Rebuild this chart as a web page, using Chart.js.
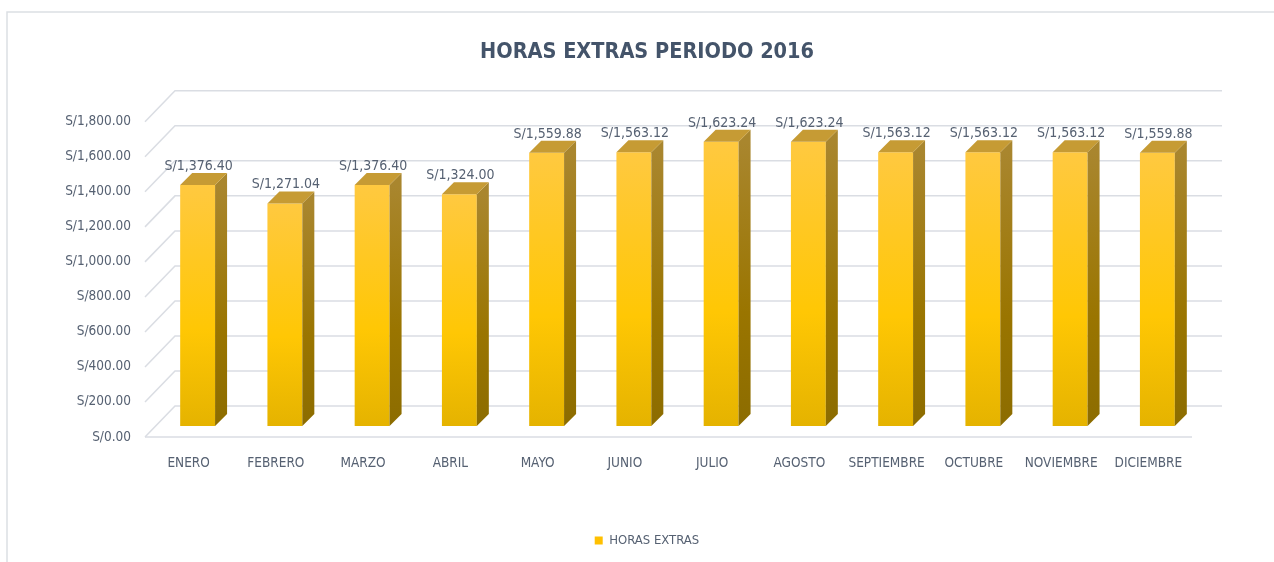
<!DOCTYPE html>
<html lang="es">
<head>
<meta charset="utf-8">
<title>Horas extras periodo 2016</title>
<script src="https://cdn.jsdelivr.net/npm/chart.js@4.4.1/dist/chart.umd.min.js"></script>
<style>
  html, body { margin: 0; padding: 0; background: #fff; }
  #wrap { position: relative; width: 1274px; height: 562px; }
</style>
</head>
<body>
<div id="wrap"><canvas id="grafico"></canvas></div>
<script>
// datos del grafico
const meses = ['ENERO', 'FEBRERO', 'MARZO', 'ABRIL', 'MAYO', 'JUNIO', 'JULIO',
               'AGOSTO', 'SEPTIEMBRE', 'OCTUBRE', 'NOVIEMBRE', 'DICIEMBRE'];
const horasExtras = [1376.40, 1271.04, 1376.40, 1324.00, 1559.88, 1563.12, 1623.24,
                     1623.24, 1563.12, 1563.12, 1563.12, 1559.88];
const serieNombre = 'HORAS EXTRAS';
const tituloTexto = 'HORAS EXTRAS PERIODO 2016';
const ejeMin = 0;
const ejeMax = 1800;
const ejePaso = 200;

const FUENTE = "'Liberation Sans Narrow', 'DejaVu Sans Condensed', Roboto, sans-serif";
const TEXTO = '#566172';
const REJILLA = '#dadde3';
const AREA_ABAJO = 426;   // base de las barras (plano frontal de las barras)

// desplazamientos de la perspectiva 3D
const PARED = {dx: 21, dy: -20};   // pared del fondo
const PISO = {dx: -9, dy: 11};     // borde frontal del piso
const FONDO = {dx: 12, dy: -12};   // profundidad de cada barra

function soles(v) {
  return 'S/' + Number(v).toLocaleString('en-US', {minimumFractionDigits: 2, maximumFractionDigits: 2});
}

// marco exterior y rejilla en perspectiva
const marco3d = {
  id: 'marco3d',
  beforeDraw(chart) {
    const ctx = chart.ctx;
    ctx.save();
    ctx.fillStyle = '#fff';
    ctx.fillRect(0, 0, chart.width, chart.height);
    ctx.strokeStyle = '#dcdfe4';
    ctx.lineWidth = 1.5;
    ctx.beginPath();
    ctx.moveTo(7, chart.height);
    ctx.lineTo(7, 12);
    ctx.lineTo(chart.width, 12);
    ctx.stroke();
    ctx.restore();
  },
  beforeDatasetsDraw(chart) {
    const ctx = chart.ctx;
    const y = chart.scales.y;
    const a = chart.chartArea;
    ctx.save();
    ctx.strokeStyle = REJILLA;
    ctx.lineWidth = 1.5;
    y.ticks.forEach(function(t) {
      const py = y.getPixelForValue(t.value);
      ctx.beginPath();
      ctx.moveTo(a.left + PISO.dx, py + PISO.dy);
      ctx.lineTo(a.left + PARED.dx, py + PARED.dy);
      ctx.lineTo(a.right + PARED.dx, py + PARED.dy);
      ctx.stroke();
    });
    // borde frontal del piso
    const p0 = y.getPixelForValue(0);
    ctx.beginPath();
    ctx.moveTo(a.left + PISO.dx, p0 + PISO.dy);
    ctx.lineTo(a.right + PISO.dx, p0 + PISO.dy);
    ctx.stroke();
    ctx.restore();
  }
};

// caras lateral y superior de cada barra + etiquetas de valor
const barras3d = {
  id: 'barras3d',
  afterDatasetsDraw(chart) {
    const ctx = chart.ctx;
    const meta = chart.getDatasetMeta(0);
    ctx.save();
    meta.data.forEach(function(bar, i) {
      const p = bar.getProps(['x', 'y', 'base', 'width'], true);
      const l = p.x - p.width / 2, r = p.x + p.width / 2;
      // cara lateral
      const gl = ctx.createLinearGradient(0, p.y, 0, p.base);
      gl.addColorStop(0, '#a9862e');
      gl.addColorStop(0.6, '#9a7500');
      gl.addColorStop(1, '#8c6c00');
      ctx.fillStyle = gl;
      ctx.beginPath();
      ctx.moveTo(r, p.y);
      ctx.lineTo(r + FONDO.dx, p.y + FONDO.dy);
      ctx.lineTo(r + FONDO.dx, p.base + FONDO.dy);
      ctx.lineTo(r, p.base);
      ctx.closePath();
      ctx.fill();
      // cara superior
      ctx.fillStyle = '#c69b34';
      ctx.beginPath();
      ctx.moveTo(l, p.y);
      ctx.lineTo(l + FONDO.dx, p.y + FONDO.dy);
      ctx.lineTo(r + FONDO.dx, p.y + FONDO.dy);
      ctx.lineTo(r, p.y);
      ctx.closePath();
      ctx.fill();
      // etiqueta
      ctx.fillStyle = TEXTO;
      ctx.font = '14px ' + FUENTE;
      ctx.textAlign = 'center';
      ctx.textBaseline = 'alphabetic';
      ctx.fillText(soles(horasExtras[i]), p.x + 1, p.y - 15);
    });
    ctx.restore();
  }
};

function degradadoFrente(c) {
  if (c.type !== 'data') return '#ffc700';
  const y = c.chart.scales.y;
  const top = y ? y.getPixelForValue(c.raw) : NaN;
  const bot = y ? y.getPixelForValue(0) : NaN;
  if (!isFinite(top) || !isFinite(bot) || top === bot) return '#ffc700';
  const g = c.chart.ctx.createLinearGradient(0, top, 0, bot);
  g.addColorStop(0, '#ffc940');
  g.addColorStop(0.6, '#ffc704');
  g.addColorStop(1, '#e5b300');
  return g;
}

new Chart(document.getElementById('grafico'), {
  type: 'bar',
  data: {
    labels: meses,
    datasets: [{
      label: serieNombre,
      data: horasExtras,
      backgroundColor: degradadoFrente,
      borderWidth: 0,
      categoryPercentage: 1,
      barPercentage: 0.4
    }]
  },
  options: {
    responsive: true,
    maintainAspectRatio: false,
    animation: false,
    layout: {padding: {left: 30, right: 10, top: 0, bottom: 5}},
    plugins: {
      title: {
        display: true,
        text: tituloTexto,
        color: '#44546a',
        font: {family: FUENTE, size: 21.5, weight: 'bold'},
        padding: {top: 40, bottom: 45}
      },
      legend: {
        position: 'bottom',
        labels: {
          color: TEXTO,
          font: {family: FUENTE, size: 13},
          boxWidth: 8,
          boxHeight: 8,
          padding: 10,
          generateLabels: function() {
            return [{text: serieNombre, fillStyle: '#ffc000', strokeStyle: '#ffc000',
                     lineWidth: 0, hidden: false, datasetIndex: 0, fontColor: TEXTO}];
          }
        }
      },
      tooltip: {enabled: false}
    },
    scales: {
      x: {
        grid: {display: false},
        border: {display: false},
        ticks: {
          color: TEXTO,
          font: {family: FUENTE, size: 13.5},
          padding: 21,
          labelOffset: -9,
          autoSkip: false,
          maxRotation: 0
        },
        afterFit: function(s) {
          const lg = s.chart.legend;
          s.height = s.chart.height - AREA_ABAJO - 5 - (lg ? lg.height : 0);
        }
      },
      y: {
        min: ejeMin,
        max: ejeMax,
        grid: {display: false},
        border: {display: false},
        ticks: {
          stepSize: ejePaso,
          color: TEXTO,
          font: {family: FUENTE, size: 13.5},
          padding: 15,
          labelOffset: 11,
          callback: function(v) { return soles(v); }
        },
        afterFit: function(s) { s.width = 124; }
      },
      // eje derecho vacio: reserva el espacio de la pared del fondo
      y2: {
        position: 'right',
        min: ejeMin,
        max: ejeMax,
        grid: {display: false},
        border: {display: false},
        ticks: {display: false},
        afterFit: function(s) { s.width = 63; }
      }
    }
  },
  plugins: [marco3d, barras3d]
});
</script>
</body>
</html>
